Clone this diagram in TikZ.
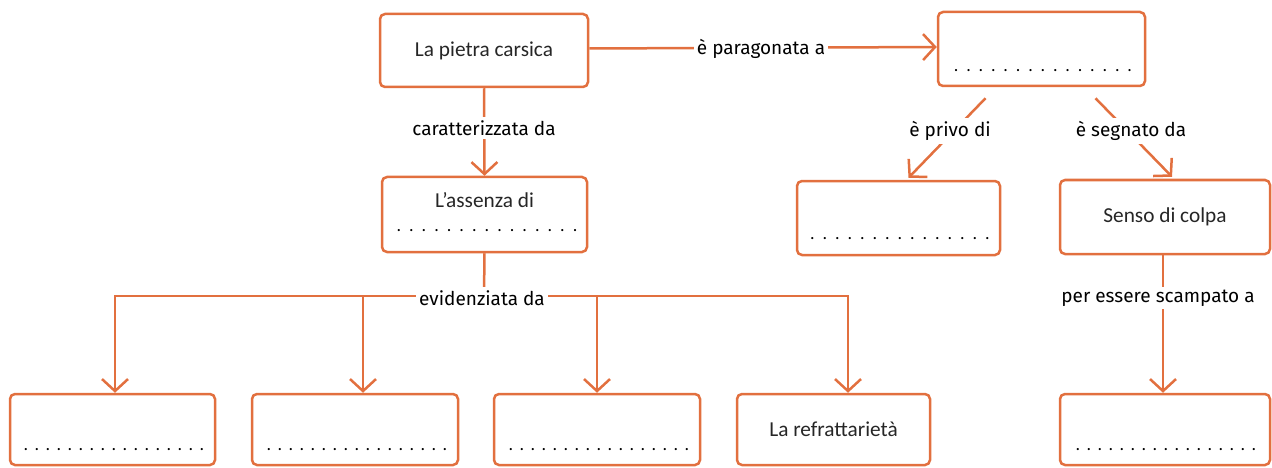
\documentclass[tikz,border=0pt]{standalone}
\usepackage{fontspec}
\setmainfont{Carlito}
\newfontfamily\lblfont{Fira Sans}
\usetikzlibrary{arrows.meta,calc}
\definecolor{orng}{HTML}{E2703F}
\newcommand\dotrow[2]{\foreach \i in {1,...,#1}{\makebox[#2]{.}}}
\begin{document}
\begin{tikzpicture}[x=1pt,y=-1pt,
  box/.style={draw=orng,line width=2.5pt,rounded corners=5pt,minimum width=#1,minimum height=73pt,inner sep=0pt,
    font=\fontsize{21.3}{24}\selectfont,text=black!85},
  txt/.style={inner sep=0pt,font=\fontsize{21.3}{24}\selectfont,text=black!85},
  dotsn/.style={inner sep=0pt,font=\fontsize{18}{20}\selectfont,text=black},
  conn/.style={draw=orng,line width=2.5pt},
  arr/.style={conn,-{Straight Barb[length=12pt,width=26pt,line width=2.5pt]}},
  lbl/.style={font=\lblfont\fontsize{19}{22}\selectfont,fill=white,inner sep=3pt,text=black}]
\useasboundingbox (0,0) rectangle (1272,468);
% boxes
\node[box=208pt] (A) at (484,50.5) {La pietra carsica};
\node[box=207pt,minimum height=74pt] (B) at (1041.5,49) {};
\node[dotsn] (Bd) at (1043,71) {\dotrow{15}{12.4pt}};
\node[box=205pt,minimum height=75pt] (C) at (484.5,214.5) {};
\node[txt] (Ct) at (484.5,200) {L’assenza di};
\node[dotsn] (Cd) at (487,231) {\dotrow{15}{12.6pt}};
\node[box=203pt,minimum height=74pt] (D) at (898.5,218) {};
\node[dotsn] (Dd) at (900,239) {\dotrow{15}{12.5pt}};
\node[box=210pt,minimum height=74pt] (E) at (1165,217) {Senso di colpa};
\node[box=205pt,minimum height=71pt] (F1) at (112.5,429.5) {};
\node[dotsn] (F1d) at (114,450) {\dotrow{17}{11pt}};
\node[box=206pt,minimum height=71pt] (F2) at (355,429.5) {};
\node[dotsn] (F2d) at (357,450) {\dotrow{17}{11pt}};
\node[box=206pt,minimum height=71pt] (F3) at (597,429.5) {};
\node[dotsn] (F3d) at (599,450) {\dotrow{17}{11pt}};
\node[box=193pt,minimum height=71pt] (F4) at (833.5,429.5) {La refrattarietà};
\node[box=210pt,minimum height=71pt] (F5) at (1165,429.5) {};
\node[dotsn] (F5d) at (1166,450) {\dotrow{17}{11pt}};
% connectors
\draw[arr] ([yshift=2pt]A.east) -- ([yshift=2pt]B.west);
\draw[arr] (A.south) -- (C.north);
\coordinate (J) at (484,296);
\draw[conn] (C.south) -- (J);
\draw[arr] (J) -| ([xshift=2.5pt]F1.north);
\draw[arr] (J) -| ([xshift=8pt]F2.north);
\draw[arr] (J) -| (F3.north);
\draw[arr] (J) -| ([xshift=14.5pt]F4.north);
\draw[arr] ($(B.south)+(-56,11)$) -- ($(D.north)+(10,-2)$);
\draw[arr] ($(B.south)+(54,11)$) -- ($(E.north)+(7,-2)$);
\draw[arr] ([xshift=-2pt]E.south) -- ([xshift=-2pt]F5.north);
% labels
\node[lbl] (L1) at (761,49) {è paragonata a};
\node[lbl] (L2) at (484,128) {caratterizzata da};
\node[lbl] (L3) at (482,298) {evidenziata da};
\node[lbl] (L4) at (950,131) {è privo di};
\node[lbl] (L5) at (1131,131) {è segnato da};
\node[lbl] (L6) at (1158,298) {per essere scampato a};
\end{tikzpicture}
\end{document}
